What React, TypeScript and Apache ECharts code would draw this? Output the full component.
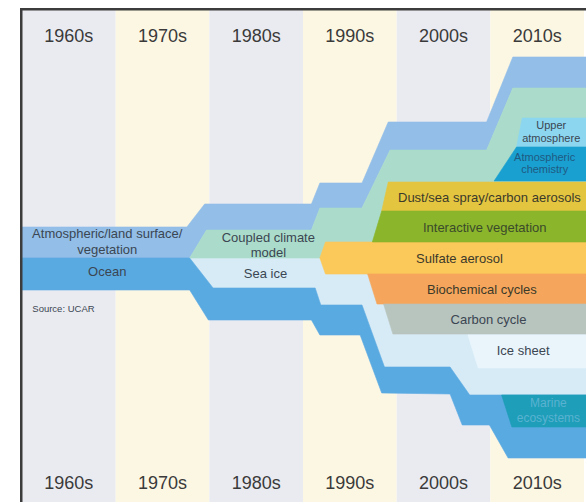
import React, { useEffect, useRef } from "react";
import * as echarts from "echarts";

// Decade columns (category axes)
const decades = ["1960s", "1970s", "1980s", "1990s", "2000s", "2010s"];

// Band outlines: [year, depth], depth counted downward from the top of the plot
const atmosphereBand = [[1960, 217], [1977.6, 217], [1979.5, 194], [1990.9, 194], [1991.8, 173], [1996.3, 173], [1999.1, 112], [2009.6, 112], [2012.4, 47], [2020.5, 47], [2020.5, 78], [2012.4, 78], [2009.6, 140], [1999.3, 140], [1996.3, 198], [1991.8, 198], [1990.9, 220], [1979.7, 220], [1977.9, 248], [1960, 248]];
const coupledModelBand = [[1979.7, 220], [1990.9, 220], [1991.8, 198], [1996.3, 198], [1999.3, 140], [2009.6, 140], [2012.4, 78], [2020.5, 78], [2020.5, 248], [1977.9, 248]];
const seaIceBand = [[1977.9, 248], [2020.5, 248], [2020.5, 385], [2007.8, 385], [2005.7, 357], [1998.7, 357], [1996.3, 295], [1991.9, 295], [1991.3, 278], [1980.4, 278]];
const oceanBand = [[1960, 248], [1977.9, 248], [1980.4, 278], [1991.3, 278], [1991.9, 295], [1996.3, 295], [1998.7, 357], [2005.7, 357], [2007.8, 385], [2020.5, 385], [2020.5, 448], [2011.9, 448], [2009.9, 415], [2007.0, 415], [2005.7, 384], [1998.4, 383], [1996.1, 325], [1991.8, 325], [1990.9, 310], [1979.9, 310], [1977.9, 280], [1960, 280]];
const sulfateBand = [[1992.4, 232], [2020.5, 232], [2020.5, 264], [1992.4, 264], [1991.8, 248]];
const biochemBand = [[1996.9, 264], [2020.5, 264], [2020.5, 294], [1997.9, 294]];
const carbonBand = [[1998.6, 294], [2020.5, 294], [2020.5, 324], [1999.6, 324]];
const iceSheetBand = [[2007.6, 325], [2020.5, 325], [2020.5, 358], [2008.7, 358]];
const dustBand = [[1999.1, 172], [2020.5, 172], [2020.5, 201], [1998.4, 201]];
const vegetationBand = [[1998.4, 201], [2020.5, 201], [2020.5, 232], [1997.4, 232]];
const upperAtmBand = [[2013.4, 108], [2020.5, 108], [2020.5, 137], [2012.8, 137]];
const atmChemBand = [[2012.8, 137], [2020.5, 137], [2020.5, 171], [2010.4, 171]];
const marineBand = [[2011.2, 385], [2020.5, 385], [2020.5, 417], [2012.3, 417]];

// Labels
const labelTexts = [
  "Atmospheric/land surface/\nvegetation",
  "Ocean",
  "Source: UCAR",
  "Coupled climate\nmodel",
  "Sea ice",
  "Upper\natmosphere",
  "Atmospheric\nchemistry",
  "Dust/sea spray/carbon aerosols",
  "Interactive vegetation",
  "Sulfate aerosol",
  "Biochemical cycles",
  "Carbon cycle",
  "Ice sheet",
  "Marine\necosystems",
];
const labelYears = [1969.1, 1969.1, 1961.1, 1986.3, 1986.0, 2016.5, 2015.8, 2009.9, 2009.4, 2006.7, 2009.1, 2009.8, 2013.5, 2016.2];
const labelDepths = [231, 261, 298, 234.5, 263, 121.5, 153, 187, 217, 248, 279, 309, 340, 400.5];

export default function App() {
  const ref = useRef<HTMLDivElement>(null);
  useEffect(() => {
    const chart = echarts.init(ref.current as HTMLDivElement, null, { renderer: "svg" });
    const font = "'Liberation Sans', Arial, Helvetica, sans-serif";
    const bands = [
      { name: "Atmospheric/land surface/vegetation", pts: atmosphereBand, color: "#92bee8" },
      { name: "Sea ice", pts: seaIceBand, color: "#d6ebf6" },
      { name: "Coupled climate model", pts: coupledModelBand, color: "#abdccb" },
      { name: "Ocean", pts: oceanBand, color: "#5aaae2" },
      { name: "Sulfate aerosol", pts: sulfateBand, color: "#fbc85a" },
      { name: "Biochemical cycles", pts: biochemBand, color: "#f6a65c" },
      { name: "Carbon cycle", pts: carbonBand, color: "#b8c4be" },
      { name: "Ice sheet", pts: iceSheetBand, color: "#eaf5fb" },
      { name: "Dust/sea spray/carbon aerosols", pts: dustBand, color: "#e4c540" },
      { name: "Interactive vegetation", pts: vegetationBand, color: "#8bb62c" },
      { name: "Upper atmosphere", pts: upperAtmBand, color: "#8cd6f0" },
      { name: "Atmospheric chemistry", pts: atmChemBand, color: "#1aa0d0" },
      { name: "Marine ecosystems", pts: marineBand, color: "#1e9eb8" },
    ];
    const polySeries = bands.map((b) => ({
      type: "custom",
      name: b.name,
      xAxisIndex: 2,
      yAxisIndex: 0,
      silent: true,
      data: [[b.pts[0][0], b.pts[0][1]]],
      renderItem: (_params: any, api: any) => ({
        type: "polygon",
        shape: { points: b.pts.map((p) => api.coord(p)) },
        style: { fill: b.color, stroke: b.color, lineWidth: 0.6 },
      }),
    }));

    const labelSize = [13, 13, 9.5, 13, 13, 11, 11, 13, 13, 13, 13, 13, 13, 12];
    const labelLine = [16, 16, 12, 15, 15, 13, 12, 15, 15, 15, 15, 15, 15, 15];
    const labelColor = ["#3b4652", "#3b4652", "#3b4652", "#3b4652", "#3b4652", "#3b4652", "#1f5a82", "#3b3a2a", "#3b4a2a", "#3b3a2a", "#3b3a2a", "#3b4652", "#3b4652", "#5ab2d2"];
    const labelSeries = {
      type: "custom",
      name: "labels",
      xAxisIndex: 2,
      yAxisIndex: 0,
      silent: true,
      z: 10,
      data: labelTexts.map((_t, i) => [labelYears[i], labelDepths[i]]),
      renderItem: (params: any, api: any) => {
        const i = params.dataIndex;
        const pt = api.coord([api.value(0), api.value(1)]);
        return {
          type: "text",
          x: pt[0],
          y: pt[1],
          style: {
            text: labelTexts[i],
            fill: labelColor[i],
            fontSize: labelSize[i],
            fontFamily: font,
            lineHeight: labelLine[i],
            align: i === 2 ? "left" : "center",
            verticalAlign: "middle",
          },
        };
      },
    };

    chart.setOption({
      animation: false,
      grid: { left: 22, right: 2, top: 10, bottom: 0 },
      xAxis: [
        {
          type: "category",
          data: decades,
          position: "top",
          axisLine: { show: false },
          axisTick: { show: false },
          splitLine: { show: false },
          splitArea: { show: true, areaStyle: { color: ["#eaebf1", "#fcf7e3"] } },
          axisLabel: { inside: true, margin: 17, fontSize: 18, color: "#3a3a3a", fontFamily: font },
        },
        {
          type: "category",
          data: decades,
          position: "bottom",
          axisLine: { show: false },
          axisTick: { show: false },
          splitLine: { show: false },
          splitArea: { show: false },
          axisLabel: { inside: true, margin: 10, fontSize: 18, color: "#3a3a3a", fontFamily: font },
        },
        { type: "value", min: 1960, max: 2020, show: false },
      ],
      yAxis: [{ type: "value", min: 0, max: 492, inverse: true, show: false }],
      graphic: [
        {
          type: "rect",
          z: 100,
          shape: { x: 21.25, y: 9.25, width: 700, height: 700 },
          style: { fill: "none", stroke: "#3c3c3c", lineWidth: 2.5 },
        },
      ],
      series: [...polySeries, labelSeries],
    });
    return () => chart.dispose();
  }, []);
  return <div ref={ref} style={{ position: "fixed", left: 0, top: 0, width: 586, height: 502, background: "#fff" }} />;
}
